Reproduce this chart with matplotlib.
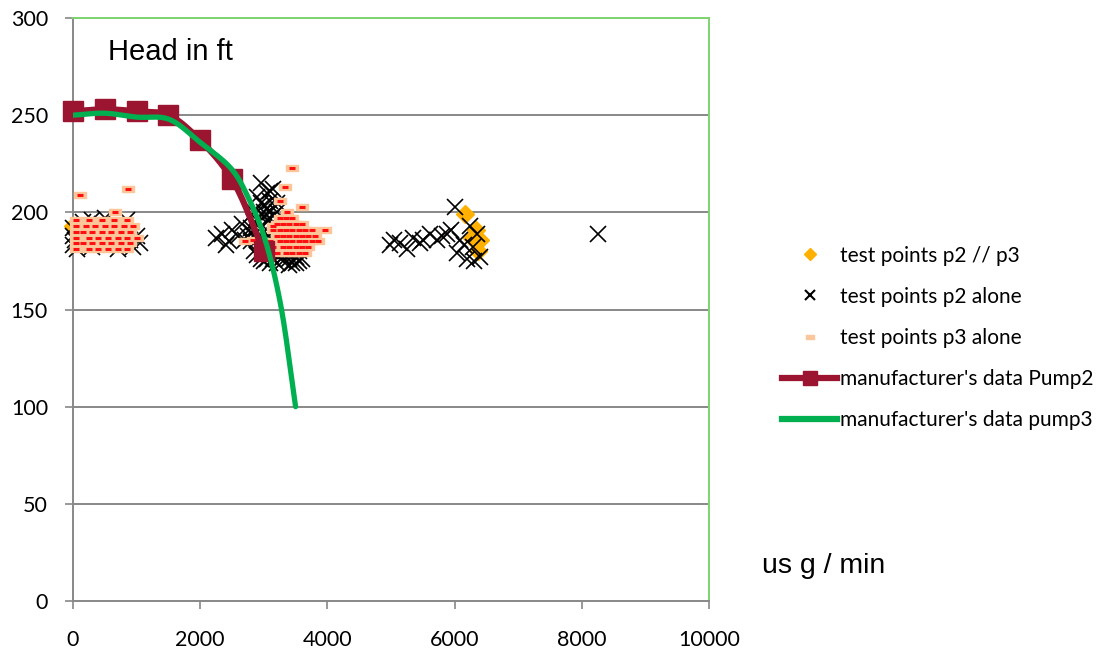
import numpy as np
import matplotlib
matplotlib.use("Agg")
import matplotlib.pyplot as plt
from matplotlib.lines import Line2D

# ---- data -------------------------------------------------------------
# manufacturer's curves (flow in US gal/min, head in ft)
pump2_flow = [0, 500, 1000, 1500, 2000, 2500, 3000]
pump2_head = [252, 253, 252, 250, 237, 217, 180]

pump3_flow = [0, 500, 1000, 1500, 2000, 2500, 2750, 3000, 3250, 3500]
pump3_head = [250, 251, 249, 248, 236, 222, 208, 188, 155, 100]

# measured points, both pumps in parallel
par_flow = [0, 6160, 6340, 6400, 6370, 6280]
par_head = [193, 199, 191, 186, 180, 187]

# measured points, pump 2 alone
p2_flow = [0, 0, 0, 30, 60, 100, 150, 200, 250, 300, 350, 400, 450, 500, 550,
           600, 650, 700, 750, 800, 850, 900, 950, 1000, 1050, 500, 300, 850,
           2250, 2350, 2450, 2500, 2600, 2650, 2700, 2800, 2400,
           2950, 3150, 2900, 3100, 3050, 3200, 3000,
           2850, 2900, 2950, 3000, 3050, 3100, 3150, 3200, 3250, 3300, 3350,
           3400, 3450, 3500, 3550, 3000, 3050, 3100, 3150, 3200, 3250, 3300,
           2900, 2950, 3050, 3150, 3100, 3000,
           2800, 2850, 2900, 2950, 3000, 3050, 3100, 3150, 3200, 3250, 3300,
           3350, 3400, 3450, 3500, 3600, 3550, 3000, 3100, 3200, 3300, 3400,
           2850, 2950, 3050, 3100, 3000, 3200, 2900, 2800, 2750,
           4985, 5050, 5140, 5250, 5350, 5450, 5510, 5610, 5720, 5800, 5875,
           5950, 6006, 6085, 6033, 6150, 6190, 6242, 6290, 6300, 6347, 6400,
           8250]
p2_head = [183, 188, 192, 186, 181, 190, 195, 184, 188, 182, 191, 186, 194, 183, 189,
           185, 192, 181, 187, 184, 190, 186, 182, 188, 184, 197, 196, 196,
           187, 189, 185, 191, 188, 194, 186, 190, 183,
           215, 212, 208, 206, 202, 200, 198,
           195, 190, 185, 180, 176, 193, 188, 183, 178, 175, 180,
           176, 174, 177, 175, 190, 185, 180, 176, 192, 187, 184,
           178, 176, 196, 198, 200, 204,
           185, 180, 196, 192, 186, 182, 178, 195, 178, 196, 190,
           186, 182, 179, 174, 176, 180, 175, 174, 174, 177, 173,
           200, 205, 210, 211, 200, 205, 186, 192, 188,
           183, 186, 184, 181, 187, 184, 186, 189, 186, 188, 189,
           191, 203, 186, 179, 183, 176, 193, 182, 175, 189, 177,
           189]

# measured points, pump 3 alone
p3_flow = [50, 250, 450, 650, 850,
           50, 200, 350, 500, 650, 800, 950,
           50, 150, 300, 450, 600, 750, 900,
           50, 250, 400, 550, 700, 850, 1000,
           50, 150, 300, 450, 600, 750, 900,
           50, 250, 400, 550, 700, 850,
           110, 870, 660,
           3440, 3330, 3250, 3600, 3360, 3960, 2700, 2830, 3145,
           3250, 3350, 3450,
           3200, 3300, 3400, 3500, 3600,
           3150, 3250, 3350, 3450, 3550, 3650, 3750,
           3200, 3300, 3400, 3500, 3600, 3700, 3800,
           3100, 3250, 3350, 3450, 3550, 3650, 3750, 3850,
           3000, 3150, 3300, 3400, 3500, 3600, 3700,
           3200, 3350, 3450, 3550, 3650]
p3_head = [196, 196, 196, 196, 196,
           193, 193, 193, 193, 193, 193, 193,
           190, 190, 190, 190, 190, 190, 190,
           187, 187, 187, 187, 187, 187, 187,
           184, 184, 184, 184, 184, 184, 184,
           181, 181, 181, 181, 181, 181,
           209, 212, 200,
           223, 213, 206, 203, 200, 191, 185, 186, 193,
           197, 197, 197,
           194, 194, 194, 194, 194,
           191, 191, 191, 191, 191, 191, 191,
           188, 188, 188, 188, 188, 188, 188,
           185, 185, 185, 185, 185, 185, 185, 185,
           182, 182, 182, 182, 182, 182, 182,
           179, 179, 179, 179, 179]

x_ticks = [0, 2000, 4000, 6000, 8000, 10000]
y_ticks = [0, 50, 100, 150, 200, 250, 300]

# ---- style ------------------------------------------------------------
C_PUMP2 = "#9b1430"
C_PUMP3 = "#00b050"
C_PAR = "#ffb000"
C_PEACH = "#fbc79a"
C_DASH = "#ff1010"
C_GRID = "#888888"
C_FRAME = "#7dd36f"
TICK_FONT = "Lato"
ARIAL = "Liberation Sans"

fig = plt.figure(figsize=(10.97, 6.53), dpi=100)
ax = fig.add_axes([73 / 1097, 1 - 601 / 653, 636 / 1097, 583 / 653])
ax.set_xlim(0, 10000)
ax.set_ylim(0, 300)


def smooth(ax, xs, ys, n=40, alpha=0.5):
    """Smoothed line through the points: centripetal Catmull-Rom in screen space."""
    pts = ax.transData.transform(np.column_stack([xs, ys]))
    P = np.vstack([2 * pts[0] - pts[1], pts, 2 * pts[-1] - pts[-2]])
    out = []
    for i in range(1, len(P) - 2):
        p0, p1, p2, p3 = P[i - 1], P[i], P[i + 1], P[i + 2]
        t0 = 0.0
        t1 = t0 + np.linalg.norm(p1 - p0) ** alpha
        t2 = t1 + np.linalg.norm(p2 - p1) ** alpha
        t3 = t2 + np.linalg.norm(p3 - p2) ** alpha
        t = np.linspace(t1, t2, n)[:, None]
        a1 = (t1 - t) / (t1 - t0) * p0 + (t - t0) / (t1 - t0) * p1
        a2 = (t2 - t) / (t2 - t1) * p1 + (t - t1) / (t2 - t1) * p2
        a3 = (t3 - t) / (t3 - t2) * p2 + (t - t2) / (t3 - t2) * p3
        b1 = (t2 - t) / (t2 - t0) * a1 + (t - t0) / (t2 - t0) * a2
        b2 = (t3 - t) / (t3 - t1) * a2 + (t - t1) / (t3 - t1) * a3
        c = (t2 - t) / (t2 - t1) * b1 + (t - t1) / (t2 - t1) * b2
        out.append(c if i == 1 else c[1:])
    out = np.vstack(out)
    data = ax.transData.inverted().transform(out)
    return data[:, 0], data[:, 1]


# grid
for y in y_ticks[1:]:
    ax.axhline(y, color=C_GRID, lw=1.4, zorder=0.5)

# rectangle marker for pump-3 points
rect = [(-1, -0.55), (1, -0.55), (1, 0.55), (-1, 0.55), (-1, -0.55)]

ax.plot(par_flow, par_head, ls="none", marker="D", ms=9.5, color=C_PAR,
        mec=C_PAR, zorder=2, clip_on=False)
ax.plot(p2_flow, p2_head, ls="none", marker="x", ms=11, mew=1.2,
        color="black", zorder=3, clip_on=False)
ax.plot(p3_flow, p3_head, ls="none", marker=rect, ms=9, color=C_PEACH,
        mec=C_PEACH, zorder=4, clip_on=False)
ax.plot(p3_flow, p3_head, ls="none", marker="_", ms=5, mew=2.2,
        color=C_DASH, zorder=4.1, clip_on=False)

sx, sy = smooth(ax, pump2_flow, pump2_head)
ax.plot(sx, sy, color=C_PUMP2, lw=4.5, solid_capstyle="round", zorder=5)
ax.plot(pump2_flow, pump2_head, ls="none", marker="s", ms=14,
        color=C_PUMP2, zorder=5.1, clip_on=False)

gx, gy = smooth(ax, pump3_flow, pump3_head)
ax.plot(gx, gy, color=C_PUMP3, lw=3.8, solid_capstyle="round", zorder=6)

# frame: green plot-area border, gray axis lines
for side in ("top", "right"):
    ax.spines[side].set_color(C_FRAME)
    ax.spines[side].set_linewidth(1.4)
for side in ("left", "bottom"):
    ax.spines[side].set_color(C_GRID)
    ax.spines[side].set_linewidth(1.4)

ax.set_xticks(x_ticks)
ax.set_yticks(y_ticks)
ax.set_xticklabels([str(v) for v in x_ticks])
ax.set_yticklabels([str(v) for v in y_ticks])
ax.tick_params(axis="both", direction="out", length=6, width=1.2,
               color=C_GRID, labelsize=15.5, labelcolor="black")
ax.tick_params(axis="x", pad=15)
ax.tick_params(axis="y", pad=12)
for lab in ax.get_xticklabels() + ax.get_yticklabels():
    lab.set_fontfamily(TICK_FONT)

ax.text((108 - 73) / 636, 1 - (52 - 18) / 583, "Head in ft",
        transform=ax.transAxes, fontsize=21, family=ARIAL,
        va="center", ha="left")
fig.text(762 / 1097, 1 - 566 / 653, "us g / min", fontsize=20.5,
         family=ARIAL, va="center", ha="left")

handles = [
    Line2D([], [], ls="none", marker="D", ms=6, color=C_PAR),
    Line2D([], [], ls="none", marker="x", ms=7, mew=1.5, color="black"),
    Line2D([], [], ls="none", marker=rect, ms=6, color=C_PEACH),
    Line2D([], [], color=C_PUMP2, lw=4.5, marker="s", ms=10),
    Line2D([], [], color=C_PUMP3, lw=4.5),
]
labels = ["test points p2 // p3", "test points p2 alone",
          "test points p3 alone", "manufacturer's data Pump2",
          "manufacturer's data pump3"]
fig.legend(handles, labels, loc="center left",
           bbox_to_anchor=(782 / 1097, 1 - 338 / 653), frameon=False,
           borderpad=0, borderaxespad=0, handlelength=2.65,
           handletextpad=0.15, labelspacing=1.02,
           prop={"family": TICK_FONT, "size": 15})

fig.savefig("out.png", dpi=100, facecolor="white")
